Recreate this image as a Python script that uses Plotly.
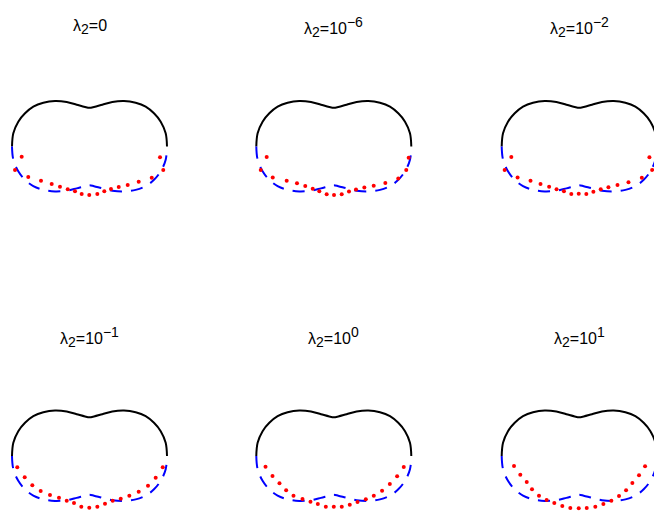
import plotly.graph_objects as go

# true boundary, upper (known) part, left to right
top_x = [-1.0, -0.983, -0.919, -0.832, -0.725, -0.596, -0.445, -0.294, -0.165, -0.058, 0.0,
         0.058, 0.165, 0.294, 0.445, 0.596, 0.725, 0.832, 0.919, 0.983, 1.0]
top_y = [0.0, 0.17, 0.32, 0.428, 0.514, 0.565, 0.587, 0.574, 0.539, 0.51, 0.50,
         0.51, 0.539, 0.574, 0.587, 0.565, 0.514, 0.428, 0.32, 0.17, 0.0]

# true boundary, lower (unknown) part, left to right
bot_x = [-1.0, -0.983, -0.919, -0.832, -0.725, -0.596, -0.445, -0.294, -0.165, -0.058, 0.0,
         0.058, 0.165, 0.294, 0.445, 0.596, 0.725, 0.832, 0.919, 0.983, 1.0]
bot_y = [0.0, -0.17, -0.32, -0.43, -0.512, -0.56, -0.58, -0.57, -0.54, -0.512, -0.50,
         -0.512, -0.54, -0.57, -0.58, -0.56, -0.512, -0.43, -0.32, -0.17, 0.0]

# exponent of lambda_2 for each panel (None -> lambda_2 = 0)
lam_exp = [None, '−6', '−2', '−1', '0', '1']

# reconstructions for each lambda_2
rec_x_0 = [-0.875, -0.961, -0.790, -0.626, -0.488, -0.381, -0.281, -0.187, -0.101, -0.003,
           0.101, 0.191, 0.277, 0.377, 0.493, 0.635, 0.803, 0.952, 0.910]
rec_y_0 = [-0.132, -0.303, -0.394, -0.441, -0.484, -0.519, -0.552, -0.578, -0.613, -0.626,
           -0.613, -0.578, -0.548, -0.523, -0.497, -0.454, -0.403, -0.303, -0.139]

rec_x_1 = [-0.866, -0.943, -0.788, -0.608, -0.475, -0.368, -0.272, -0.187, -0.092, 0.003,
           0.102, 0.196, 0.286, 0.394, 0.515, 0.665, 0.832, 0.935, 0.966]
rec_y_1 = [-0.135, -0.303, -0.399, -0.441, -0.475, -0.510, -0.545, -0.578, -0.617, -0.626,
           -0.617, -0.581, -0.555, -0.529, -0.506, -0.471, -0.412, -0.303, -0.145]

rec_x_2 = [-0.876, -0.962, -0.795, -0.628, -0.499, -0.388, -0.292, -0.197, -0.102, -0.006,
           0.092, 0.183, 0.278, 0.377, 0.494, 0.636, 0.808, 0.941, 0.906]
rec_y_2 = [-0.135, -0.303, -0.399, -0.441, -0.484, -0.519, -0.552, -0.578, -0.613, -0.609,
           -0.613, -0.584, -0.552, -0.526, -0.497, -0.462, -0.403, -0.303, -0.139]

rec_x_3 = [-0.932, -0.836, -0.738, -0.630, -0.510, -0.394, -0.294, -0.200, -0.106, -0.003,
           0.101, 0.200, 0.299, 0.403, 0.514, 0.635, 0.755, 0.854, 0.945]
rec_y_3 = [-0.146, -0.275, -0.378, -0.452, -0.503, -0.538, -0.577, -0.606, -0.654, -0.667,
           -0.654, -0.615, -0.577, -0.551, -0.512, -0.461, -0.383, -0.280, -0.146]

rec_x_4 = [-0.881, -0.791, -0.701, -0.615, -0.520, -0.404, -0.301, -0.206, -0.103, 0.000,
           0.103, 0.206, 0.306, 0.413, 0.516, 0.623, 0.723, 0.817, 0.903]
rec_y_4 = [-0.138, -0.258, -0.352, -0.443, -0.512, -0.555, -0.590, -0.619, -0.654, -0.654,
           -0.654, -0.628, -0.594, -0.559, -0.512, -0.448, -0.361, -0.262, -0.142]

rec_x_5 = [-0.841, -0.760, -0.677, -0.609, -0.519, -0.420, -0.321, -0.218, -0.115, -0.006,
           0.097, 0.208, 0.312, 0.415, 0.514, 0.605, 0.686, 0.772, 0.850]
rec_y_5 = [-0.129, -0.241, -0.335, -0.430, -0.512, -0.568, -0.606, -0.645, -0.671, -0.675,
           -0.671, -0.654, -0.619, -0.577, -0.516, -0.443, -0.348, -0.249, -0.133]

recs = [(rec_x_0, rec_y_0), (rec_x_1, rec_y_1), (rec_x_2, rec_y_2),
        (rec_x_3, rec_y_3), (rec_x_4, rec_y_4), (rec_x_5, rec_y_5)]

W, H = 654, 516
SCALE = 77.5                     # pixels per data unit (equal aspect)
col_cx = [89.5, 333.8, 579.2]
row_cy = [146.5, 456.0]
title_py = [27, 337]
FS = 16


def title_text(e):
    # MATLAB-style tex: sub/superscripts barely shrunk
    s = 'λ<sub><span style="font-size:%dpx">2</span></sub>=' % (FS - 2)
    if e is None:
        return s + '0'
    return s + '10<sup><span style="font-size:%dpx">%s</span></sup>' % (FS - 2, e)


fig = go.Figure()
layout = dict(width=W, height=H, margin=dict(l=0, r=0, t=0, b=0),
              paper_bgcolor='white', plot_bgcolor='white', showlegend=False)
annotations = []

for i, (rx, ry) in enumerate(recs):
    r, c = divmod(i, 3)
    cx, cy = col_cx[c], row_cy[r]
    x0, x1 = max(0, cx - 122), min(W, cx + 122)
    y0, y1 = max(0, cy - 110), min(H, cy + 110)
    n = '' if i == 0 else str(i + 1)
    xa, ya = 'x' + n, 'y' + n

    fig.add_trace(go.Scatter(x=top_x, y=top_y, mode='lines', xaxis=xa, yaxis=ya,
                             line=dict(color='black', width=2, shape='spline')))
    fig.add_trace(go.Scatter(x=bot_x, y=bot_y, mode='lines', xaxis=xa, yaxis=ya,
                             line=dict(color='blue', width=2, shape='spline', dash='12px,9px')))
    fig.add_trace(go.Scatter(x=rx, y=ry, mode='markers', xaxis=xa, yaxis=ya,
                             marker=dict(color='red', size=4)))

    layout['xaxis' + n] = dict(domain=[x0 / W, x1 / W],
                               range=[(x0 - cx) / SCALE, (x1 - cx) / SCALE],
                               visible=False, fixedrange=True)
    layout['yaxis' + n] = dict(domain=[1 - y1 / H, 1 - y0 / H],
                               range=[-(y1 - cy) / SCALE, -(y0 - cy) / SCALE],
                               visible=False, fixedrange=True)

    annotations.append(dict(text=title_text(lam_exp[i]), xref='paper', yref='paper',
                            x=cx / W, y=1 - title_py[r] / H,
                            xanchor='center', yanchor='middle', showarrow=False,
                            font=dict(family='Liberation Sans, Arial', size=FS, color='black')))

layout['annotations'] = annotations
fig.update_layout(**layout)

# drop the default 8px body margin so the figure sits at the page origin
fig.write_html("out.html", post_script="document.body.style.margin='0';",
               config={'displayModeBar': False})
